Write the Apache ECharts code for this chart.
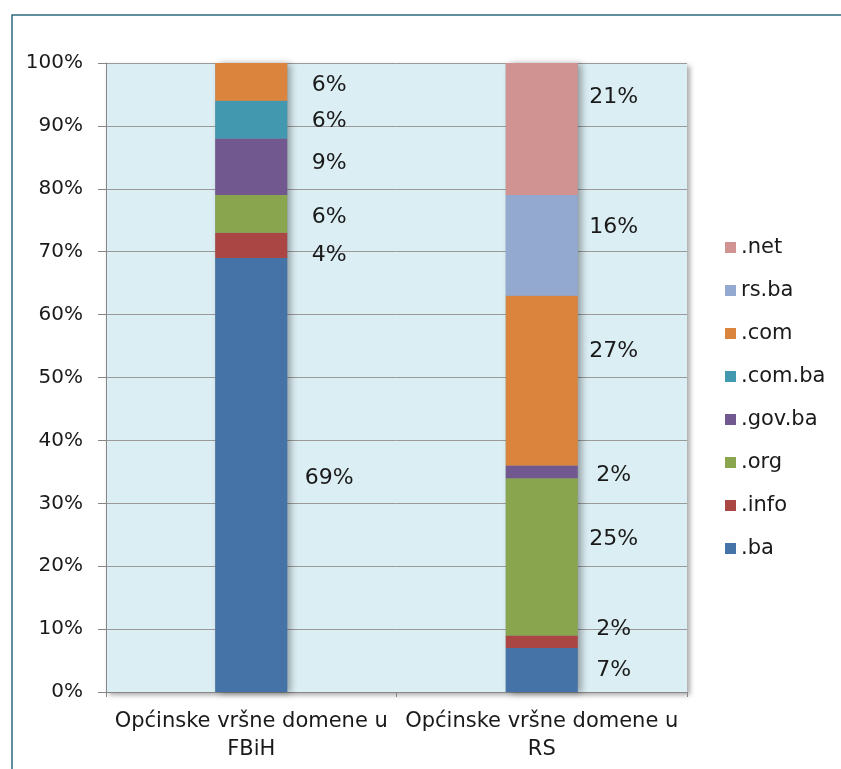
<!DOCTYPE html>
<html>
<head>
<meta charset="utf-8">
<script src="https://cdn.jsdelivr.net/npm/echarts@6/dist/echarts.min.js"></script>
<style>
  html, body { margin: 0; padding: 0; background: #ffffff; }
  #chart { width: 841px; height: 769px; }
</style>
</head>
<body>
<div id="chart"></div>
<script>
// Share of top-level domains used by municipal websites (percent of total)
const categories = ['Općinske vršne domene u\nFBiH', 'Općinske vršne domene u\nRS'];
const domainNames = ['.ba', '.info', '.org', '.gov.ba', '.com.ba', '.com', 'rs.ba', '.net'];
const dotBa    = [69, 7];
const dotInfo  = [4, 2];
const dotOrg   = [6, 25];
const dotGovBa = [9, 2];
const dotComBa = [6, null];
const dotCom   = [6, 27];
const rsBa     = [null, 16];
const dotNet   = [null, 21];
const yTickLabels = ['0%', '10%', '20%', '30%', '40%', '50%', '60%', '70%', '80%', '90%', '100%'];

const seriesValues = [dotBa, dotInfo, dotOrg, dotGovBa, dotComBa, dotCom, rsBa, dotNet];
const colors = ['#4572a7', '#aa4643', '#89a54e', '#71588f', '#4198af', '#db843d', '#93a9cf', '#d19392'];

// label nudges (px) per series, per category, so the texts do not collide
const labelDy = {
  '.ba':     [3, 0],
  '.info':   [10, -12],
  '.org':    [3, -17],
  '.gov.ba': [-4, 3],
  '.com.ba': [2, 0],
  '.com':    [3, -29],
  'rs.ba':   [0, -18],
  '.net':    [0, -32]
};
const labelDx = [42, 36];

// column totals, used for the soft drop shadow behind each stack
const totals = categories.map((_, i) =>
  seriesValues.reduce((s, arr) => s + (arr[i] || 0), 0));

const textColor = '#1a1a1a';
const fontFamily = '"DejaVu Sans", Verdana, sans-serif';

const stackSeries = domainNames.map((name, si) => ({
  name: name,
  type: 'bar',
  stack: 'share',
  barWidth: 72,
  barGap: '-100%',
  z: 3,
  itemStyle: { color: colors[si] },
  data: seriesValues[si].map((v, ci) => ({
    value: v,
    label: {
      show: v != null,
      position: ['100%', '50%'],
      offset: [labelDx[ci], labelDy[name][ci]],
      align: 'center',
      verticalAlign: 'middle',
      formatter: '{c}%',
      color: textColor,
      fontSize: 22,
      fontFamily: fontFamily
    }
  }))
}));

const shadowSeries = {
  name: 'shadow',
  type: 'bar',
  barWidth: 72,
  barGap: '-100%',
  z: 2,
  silent: true,
  itemStyle: {
    color: '#8a9aa0',
    shadowColor: 'rgba(0,0,0,0.35)',
    shadowBlur: 7,
    shadowOffsetX: 4,
    shadowOffsetY: 1
  },
  data: totals
};

const chart = echarts.init(document.getElementById('chart'), null, { renderer: 'canvas' });
chart.setOption({
  backgroundColor: '#ffffff',
  animation: false,
  graphic: [{
    type: 'rect',
    shape: { x: 12, y: 15, width: 1000, height: 1000 },
    style: { fill: 'none', stroke: '#2d6b7d', lineWidth: 1.5 },
    z: 0
  }],
  grid: {
    left: 106, right: 154, top: 63, bottom: 77,
    show: true,
    backgroundColor: '#dbeef3',
    borderWidth: 0,
    shadowColor: 'rgba(0,0,0,0.35)',
    shadowBlur: 5,
    shadowOffsetX: 3,
    shadowOffsetY: 3
  },
  legend: {
    orient: 'vertical',
    left: 725,
    top: 236,
    padding: 0,
    icon: 'rect',
    itemWidth: 11,
    itemHeight: 11,
    itemGap: 20,
    data: domainNames.slice().reverse(),
    textStyle: { color: textColor, fontSize: 21, lineHeight: 23, fontFamily: fontFamily }
  },
  xAxis: {
    type: 'category',
    data: categories,
    axisLine: { lineStyle: { color: '#868686', width: 1 } },
    axisTick: { show: true, length: 5, lineStyle: { color: '#868686' } },
    axisLabel: {
      color: textColor, fontSize: 21, lineHeight: 28, margin: 16,
      fontFamily: fontFamily, interval: 0
    }
  },
  yAxis: {
    type: 'value',
    min: 0, max: 100, interval: 10,
    axisLine: { show: true, lineStyle: { color: '#868686', width: 1 } },
    axisTick: { show: true, length: 8, lineStyle: { color: '#868686' } },
    splitLine: { show: true, lineStyle: { color: '#9a9a9a', width: 1 } },
    axisLabel: {
      color: textColor, fontSize: 20, margin: 23, fontFamily: fontFamily,
      formatter: (v) => yTickLabels[Math.round(v / 10)]
    }
  },
  series: [shadowSeries].concat(stackSeries)
});
</script>
</body>
</html>
